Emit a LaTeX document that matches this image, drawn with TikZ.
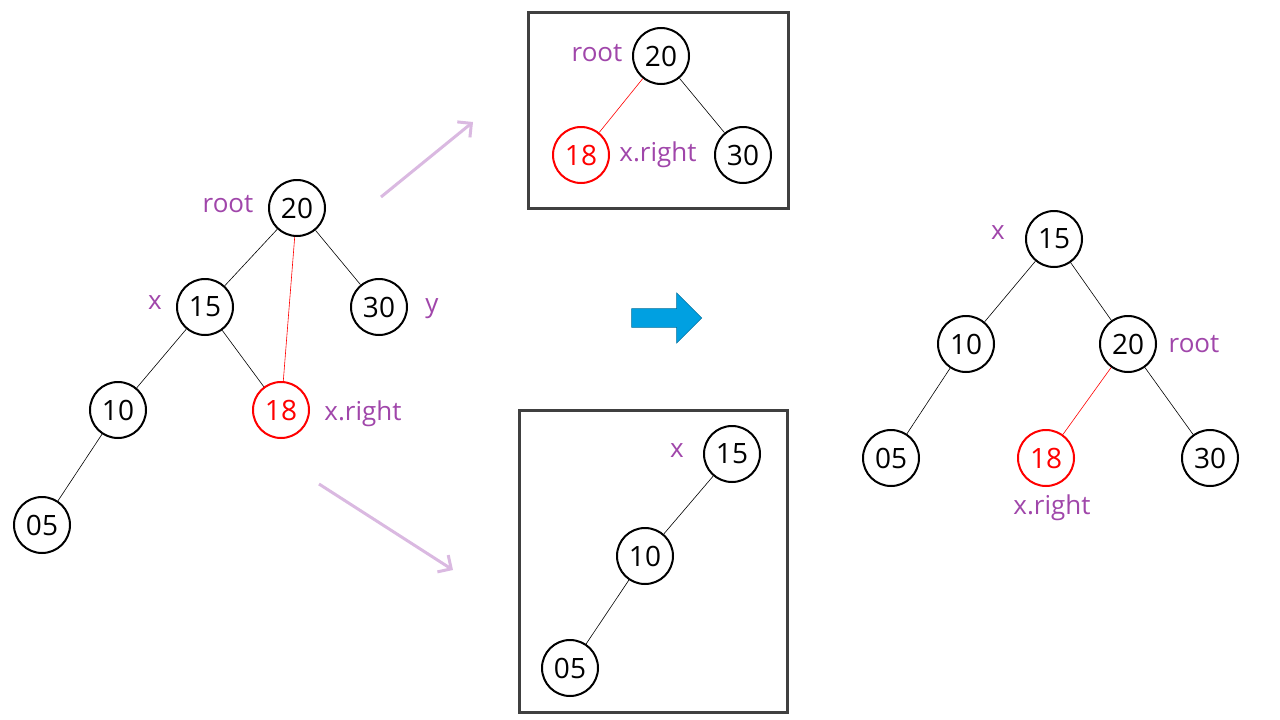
\documentclass[tikz,border=0pt]{standalone}
\usepackage{fontspec}
\setmainfont{Open Sans}
\usetikzlibrary{arrows.meta,shapes.arrows}
\definecolor{lab}{RGB}{160,70,170}
\definecolor{pinka}{RGB}{218,185,225}
\definecolor{bluea}{RGB}{0,160,225}
\begin{document}
\begin{tikzpicture}[x=1pt,y=-1pt,
  n/.style={circle,draw,line width=2pt,minimum size=56pt,inner sep=0pt,font=\fontsize{28}{30}\selectfont},
  r/.style={n,draw=red,text=red},
  l/.style={text=lab,inner sep=0pt,font=\fontsize{26}{28}\selectfont},
  e/.style={black,line width=0.6pt},
  re/.style={red,line width=0.6pt},
  box/.style={draw=black!75,line width=3pt},
  pa/.style={pinka,line width=3pt,-{Straight Barb[length=10pt,width=20pt]}}]
\useasboundingbox (0,0) rectangle (1280,720);
% left tree
\node[n] (a20) at (297,208) {20};
\node[n] (a15) at (205,307) {15};
\node[n] (a30) at (379,307) {30};
\node[n] (a10) at (118,410) {10};
\node[r] (a18) at (281,410) {18};
\node[n] (a05) at (42,525) {05};
\draw[e] (a20)--(a15); \draw[e] (a20)--(a30); \draw[re] (a20)--(a18);
\draw[e] (a15)--(a10); \draw[e] (a15)--(a18); \draw[e] (a10)--(a05);
\node[l] (la1) at (228,204) {root};
\node[l] (la2) at (155,303) {x};
\node[l] (la3) at (432,309) {y};
\node[l] (la4) at (363,414) {x.right};
% top box
\node[box,minimum width=260pt,minimum height=196pt] (tb) at (658,110) {};
\node[n] (b20) at (661,56) {20};
\node[r] (b18) at (581,155) {18};
\node[n] (b30) at (743,155) {30};
\draw[re] (b20)--(b18); \draw[e] (b20)--(b30);
\node[l] (lb1) at (597,53) {root};
\node[l] (lb2) at (658,155) {x.right};
% bottom box
\node[box,minimum width=268pt,minimum height=302pt] (bb) at (653,561) {};
\node[n] (c15) at (732,454) {15};
\node[n] (c10) at (645,556) {10};
\node[n] (c05) at (570,668) {05};
\draw[e] (c15)--(c10); \draw[e] (c10)--(c05);
\node[l] (lc1) at (677,451) {x};
% right tree
\node[n] (d15) at (1054,239) {15};
\node[n] (d10) at (966,344) {10};
\node[n] (d20) at (1128,344) {20};
\node[n] (d05) at (891,458) {05};
\node[r] (d18) at (1046,458) {18};
\node[n] (d30) at (1210,458) {30};
\draw[e] (d15)--(d10); \draw[e] (d15)--(d20); \draw[e] (d10)--(d05);
\draw[re] (d20)--(d18); \draw[e] (d20)--(d30);
\node[l] (ld1) at (998,233) {x};
\node[l] (ld2) at (1194,344) {root};
\node[l] (ld3) at (1052,508) {x.right};
% arrows
\coordinate (p1) at (381,197); \coordinate (p2) at (473,122);
\coordinate (p3) at (319,484); \coordinate (p4) at (453,570);
\draw[pa] (p1)--(p2);
\draw[pa] (p3)--(p4);
\node[single arrow,fill=bluea,draw=bluea!70!black,line width=0.5pt,minimum width=50pt,single arrow head extend=6pt,minimum height=70pt] (ba) at (662,318) {};
\end{tikzpicture}
\end{document}
